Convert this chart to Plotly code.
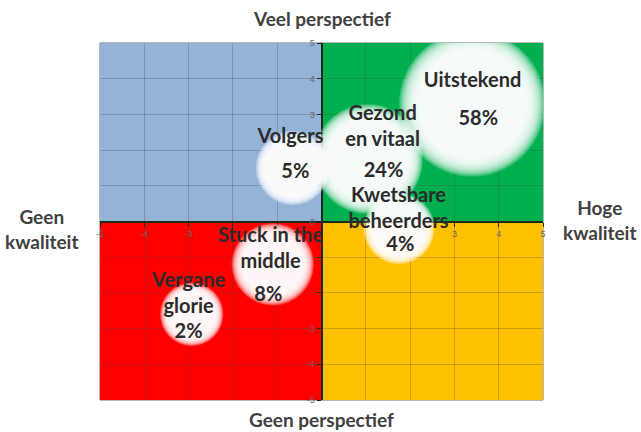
import numpy as np
import plotly.graph_objects as go

# ---- data ----
segments = ["Uitstekend", "Gezond<br>en vitaal", "Kwetsbare<br>beheerders",
            "Volgers", "Stuck in the<br>middle", "Vergane<br>glorie"]
shares = [58, 24, 4, 5, 8, 2]                      # percent
kwaliteit = [3.4, 1.05, 1.75, -0.65, -1.1, -2.93]  # x score
perspectief = [3.3, 1.75, -0.2, 1.5, -1.2, -2.6]   # y score
name_x = [3.41, 1.38, 1.74, -0.70, -1.15, -3.0]
name_y = [3.92, 2.62, 0.32, 2.33, -0.80, -2.05]
pct_x = [3.54, 1.40, 1.78, -0.59, -1.20, -3.0]
pct_y = [2.84, 1.38, -0.68, 1.35, -2.08, -3.11]

quad_x0 = [-5, 0, -5, 0]
quad_x1 = [0, 5, 0, 5]
quad_y0 = [0, 0, -5, -5]
quad_y1 = [5, 5, 0, 0]
quad_colors = ["#95B3D7", "#00B050", "#FF0000", "#FFC000"]

axis_ticks = [-5, -4, -3, -2, -1, 0, 1, 2, 3, 4, 5]
x_ticktext = ["-5", "-4", "-3", "", "", "", "", "", "3", "4", "5"]
y_ticktext = ["-5", "-4", "-3", "", "", "0", "", "", "3", "4", "5"]

# ---- figure ----
fig = go.Figure()

# bubble diameters (px) scaled from share
diam = [40 + 11.9 * np.sqrt(s) for s in shares]

n_layers = 22
for k in range(n_layers):
    f = 0.80 + 0.32 * k / (n_layers - 1)
    fig.add_trace(go.Scatter(
        x=kwaliteit, y=perspectief, mode="markers",
        marker=dict(size=[d * f for d in diam], color="white", opacity=0.16,
                    line=dict(width=0)),
        hoverinfo="skip", showlegend=False))

label_font = dict(family="Lato, Open Sans, sans-serif", size=20, color="#2b2b2b", weight="bold")
fig.add_trace(go.Scatter(
    x=name_x, y=name_y, mode="text", text=segments, textfont=label_font,
    hoverinfo="skip", showlegend=False))
fig.add_trace(go.Scatter(
    x=pct_x, y=pct_y, mode="text", text=[f"{s}%" for s in shares], textfont=label_font,
    hoverinfo="skip", showlegend=False))

shapes = []
for x0, x1, y0, y1, c in zip(quad_x0, quad_x1, quad_y0, quad_y1, quad_colors):
    shapes.append(dict(type="rect", xref="x", yref="y", x0=x0, x1=x1, y0=y0, y1=y1,
                       fillcolor=c, line=dict(width=0), layer="below"))
shapes.append(dict(type="rect", xref="paper", yref="paper", x0=0, x1=1, y0=0, y1=1,
                   line=dict(color="#6f6f6f", width=1), layer="below"))

axis_common = dict(
    range=[-5, 5], tickvals=axis_ticks, showgrid=True,
    gridcolor="rgba(70,70,70,0.28)", gridwidth=1,
    zeroline=False, showline=True, linecolor="#1c2a1c", linewidth=2,
    ticks="outside", ticklen=4, tickcolor="#1c2a1c",
    tickfont=dict(family="Liberation Sans, Arial", size=9, color="#666666"),
    anchor="free", position=0.5, layer="below traces", fixedrange=True)

fig.update_layout(
    width=641, height=432,
    margin=dict(l=100, r=98, t=43, b=32),
    paper_bgcolor="white", plot_bgcolor="white",
    xaxis=dict(**axis_common, ticktext=x_ticktext),
    yaxis=dict(**axis_common, ticktext=y_ticktext),
    shapes=shapes,
    showlegend=False,
)

title_font = dict(family="Lato, Open Sans, sans-serif", size=19, color="#404040", weight="bold")
annots = [
    ("Veel perspectief", 0.5, 1.07),
    ("Geen perspectief", 0.5, -0.056),
    ("Geen<br>kwaliteit", -0.131, 0.479),
    ("Hoge<br>kwaliteit", 1.129, 0.504),
]
for txt, ax, ay in annots:
    fig.add_annotation(text=txt, x=ax, y=ay, xref="paper", yref="paper",
                       showarrow=False, xanchor="center", yanchor="middle",
                       font=title_font)

fig.write_html("out.html", config={"displayModeBar": False},
               post_script="document.body.style.margin='0px';")
